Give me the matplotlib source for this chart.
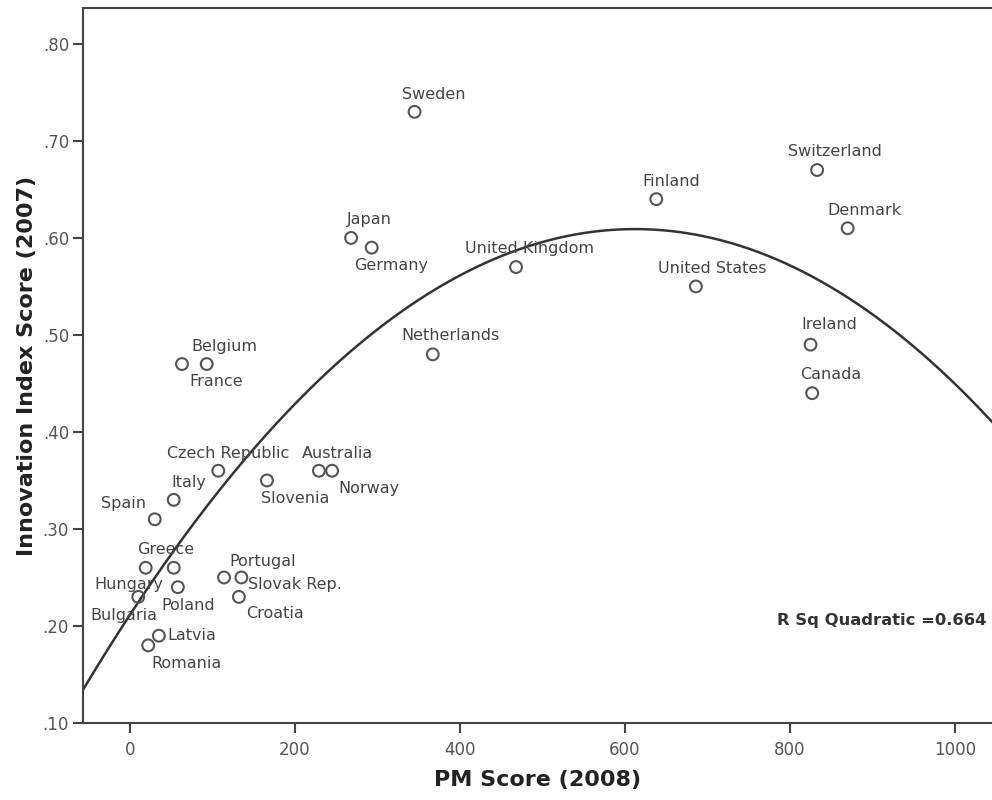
import matplotlib
matplotlib.use("Agg")
import matplotlib.pyplot as plt
import numpy as np

# PM score (2008) vs innovation index (2007), one point per country
countries = ["Sweden", "Switzerland", "Finland", "Denmark", "United States",
             "Ireland", "Canada", "Japan", "Germany", "Belgium", "France",
             "Netherlands", "United Kingdom", "Czech Republic", "Australia",
             "Norway", "Slovenia", "Italy", "Spain", "Greece", "Hungary",
             "Poland", "Bulgaria", "Latvia", "Romania", "Portugal",
             "Slovak Rep.", "Croatia"]
pm_score = [345, 833, 638, 870, 686, 825, 827, 268, 293, 93, 63,
            367, 468, 107, 229, 245, 166, 53, 30, 53, 19,
            58, 10, 35, 22, 114, 135, 132]
innovation = [0.73, 0.67, 0.64, 0.61, 0.55, 0.49, 0.44, 0.60, 0.59, 0.47, 0.47,
              0.48, 0.57, 0.36, 0.36, 0.36, 0.35, 0.33, 0.31, 0.26, 0.26,
              0.24, 0.23, 0.19, 0.18, 0.25, 0.25, 0.23]

# label placement (pixels from the marker to the label's left/centre)
label_dx = [-13, -29, -14, -20, -38, -9, -12, -4, -18, -15, 7,
            -31, -51, -51, -17, 6, -6, -2, -54, -37, -51,
            -16, -48, 8, 3, 5, 7, 7]
label_dy = [17, 19, 18, 18, 18, 20, 19, 18, -18, 18, -17,
            19, 19, 17, 17, -18, -18, 17, 16, 18, -17,
            -18, -19, 0, -18, 16, -7, -17]

x = np.array(pm_score, dtype=float)
y = np.array(innovation)

# quadratic fit
coef = np.polyfit(x, y, 2)
fit = np.poly1d(coef)

fig = plt.figure(figsize=(9.92, 8), dpi=100)
ax = fig.add_axes([83 / 992, 77 / 800, 1 - 83 / 992, 715 / 800])

xlim = (-57, 1045)
ylim = (0.10, 0.837)
xs = np.linspace(xlim[0], xlim[1], 400)
ax.plot(xs, fit(xs), color="#333333", lw=1.8, zorder=2)

ax.scatter(x, y, s=72, facecolors="none", edgecolors="#555555",
           linewidths=1.5, zorder=3)

for name, px, py, dx, dy in zip(countries, x, y, label_dx, label_dy):
    ax.annotate(name, (px, py), xytext=(dx, dy), textcoords="offset pixels",
                ha="left", va="center", fontsize=11.5, color="#444444")

ax.text(1038, 0.206, "R Sq Quadratic =0.664", ha="right", va="center",
        fontsize=11.8, fontweight="bold", color="#333333")

ax.set_xlim(*xlim)
ax.set_ylim(*ylim)
ax.set_xticks([0, 200, 400, 600, 800, 1000])
yt = [0.1, 0.2, 0.3, 0.4, 0.5, 0.6, 0.7, 0.8]
ax.set_yticks(yt)
ax.set_yticklabels([("%.2f" % v)[1:] for v in yt])

ax.spines["right"].set_visible(False)
for s in ["left", "top", "bottom"]:
    ax.spines[s].set_color("#444444")
    ax.spines[s].set_linewidth(1.5)

ax.tick_params(axis="both", direction="out", length=7, width=1.5,
               color="#444444", labelcolor="#555555", labelsize=12)
ax.tick_params(axis="y", pad=3)
ax.tick_params(axis="x", pad=6)

ax.set_xlabel("PM Score (2008)", fontsize=16, fontweight="bold",
              color="#222222", labelpad=8)
ax.set_ylabel("Innovation Index Score (2007)", fontsize=16,
              fontweight="bold", color="#222222", labelpad=4)

fig.savefig("out.png", dpi=100, facecolor="white")
